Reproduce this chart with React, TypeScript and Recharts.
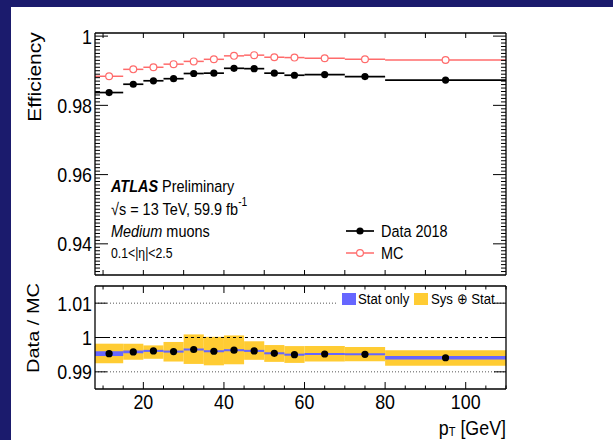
import React from 'react';
import {
    ComposedChart,
    Scatter,
    ErrorBar,
    XAxis,
    YAxis,
    ReferenceArea,
    ReferenceLine,
} from 'recharts';

// pT bins [GeV]
const binLo = [8, 15, 20, 25, 30, 35, 40, 45, 50, 55, 60, 70, 80];
const binHi = [15, 20, 25, 30, 35, 40, 45, 50, 55, 60, 70, 80, 110];

// efficiencies
const effData = [0.9837, 0.9861, 0.9871, 0.9877, 0.9892, 0.9893, 0.9907, 0.9906, 0.9893, 0.9887, 0.9889, 0.9883, 0.9873];
const effMC = [0.9884, 0.9904, 0.991, 0.9919, 0.9927, 0.9933, 0.9943, 0.9945, 0.9939, 0.9938, 0.9936, 0.9933, 0.9931];

// data / MC
const ratio = [0.9953, 0.9958, 0.9961, 0.9959, 0.9965, 0.996, 0.9963, 0.9961, 0.9954, 0.995, 0.9952, 0.9951, 0.9941];
const statErr = [0.0007, 0.0004, 0.0003, 0.0003, 0.0003, 0.0003, 0.0003, 0.0003, 0.0003, 0.0003, 0.0003, 0.0003, 0.0005];
const totLo = [0.9925, 0.9935, 0.9938, 0.993, 0.9923, 0.9919, 0.9922, 0.9935, 0.9929, 0.9926, 0.993, 0.9931, 0.9918];
const totHi = [0.9982, 0.9982, 0.9977, 0.9987, 1.0009, 1.0002, 1.0006, 0.9989, 0.9978, 0.9975, 0.9975, 0.9972, 0.9963];

// axis ticks
const effMajor = [0.94, 0.96, 0.98, 1];
const effMinor = Array.from({ length: 69 }, (_, i) => Number((0.932 + i * 0.001).toFixed(3)));
const ratioMajor = [0.99, 1, 1.01];
const ptTopTicks = [10, 20, 30, 40, 50, 60, 70, 80, 90, 100];
const ptMajor = [20, 40, 60, 80, 100];
const ptMinor = Array.from({ length: 21 }, (_, i) => 10 + i * 5);

const FONT = "'Liberation Sans', Arial, sans-serif";
const SQ = 0.85; // the original plot is squeezed sideways
const RED = '#ff6b6b';
const BLUE = '#6666ff';
const YELLOW = '#ffcc33';

const effRows = binLo.map((lo, i) => ({
    x: (lo + binHi[i]) / 2,
    xerr: (binHi[i] - lo) / 2,
    data: effData[i],
    mc: effMC[i],
}));
const ratioRows = binLo.map((lo, i) => ({ x: (lo + binHi[i]) / 2, r: ratio[i] }));

const isIn = (list: number[], v: number) => list.some(m => Math.abs(m - v) < 1e-7);

// text squeezed horizontally around its anchor point
function SText({ x, y, size, anchor = 'start', children }: any) {
    return (
        <g transform={`translate(${x},${y}) scale(${SQ},1)`}>
            <text x={0} y={0} textAnchor={anchor} dominantBaseline="central" fontFamily={FONT} fontSize={size} fill="#000">
                {children}
            </text>
        </g>
    );
}

function makeTick(side: string, majors: number[], majorLen: number, minorLen: number, label: boolean) {
    return (props: any) => {
        const { x, y, payload } = props;
        const v = payload.value;
        const major = isIn(majors, v);
        const len = major ? majorLen : minorLen;
        let line;
        if (side === 'left') line = <line x1={x} x2={x + len} y1={y} y2={y} stroke="#000" />;
        else if (side === 'right') line = <line x1={x} x2={x - len} y1={y} y2={y} stroke="#000" />;
        else if (side === 'top') line = <line x1={x} x2={x} y1={y} y2={y + len} stroke="#000" />;
        else line = <line x1={x} x2={x} y1={y} y2={y - len} stroke="#000" />;
        let text = null;
        if (label && major) {
            const t = String(Number(v.toFixed(3)));
            text =
                side === 'left' ? (
                    <SText x={x - 3} y={y} size={21} anchor="end">{t}</SText>
                ) : (
                    <SText x={x} y={y + 12} size={21} anchor="middle">{t}</SText>
                );
        }
        return (
            <g>
                {line}
                {text}
            </g>
        );
    };
}

const axisCommon = {
    type: 'number' as const,
    tickSize: 0,
    tickMargin: 0,
    tickLine: false,
    interval: 0 as const,
    allowDataOverflow: true,
    axisLine: { stroke: '#000', strokeWidth: 1.3 },
};

const DataDot = (p: any) => <circle cx={p.cx} cy={p.cy} r={3.6} fill="#000" />;
const MCDot = (p: any) => <circle cx={p.cx} cy={p.cy} r={3.4} fill="#fff" stroke={RED} strokeWidth={1.2} />;
const NoDot = () => <g />;

function EffPanel() {
    return (
        <ComposedChart width={508} height={290} data={effRows} margin={{ top: 32, right: 1, bottom: 14, left: 94 }}>
            <XAxis {...axisCommon} xAxisId="b" dataKey="x" orientation="bottom" height={1} domain={[8, 110]} ticks={ptTopTicks} tick={makeTick('bottom', ptTopTicks, 5, 5, false)} />
            <XAxis {...axisCommon} xAxisId="t" dataKey="x" orientation="top" height={1} domain={[8, 110]} ticks={ptTopTicks} tick={makeTick('top', ptTopTicks, 5, 5, false)} />
            <YAxis {...axisCommon} yAxisId="l" orientation="left" width={1} domain={[0.931, 1.0009]} ticks={effMinor} tick={makeTick('left', effMajor, 13, 5, true)} />
            <YAxis {...axisCommon} yAxisId="r" orientation="right" width={1} domain={[0.931, 1.0009]} ticks={effMinor} tick={makeTick('right', effMajor, 13, 5, false)} />
            {/* invisible series so the top and right frame axes get their ticks */}
            <Scatter xAxisId="t" yAxisId="r" dataKey="mc" shape={NoDot} isAnimationActive={false} />
            <Scatter xAxisId="b" yAxisId="l" dataKey="data" fill="#000" shape={DataDot} isAnimationActive={false}>
                <ErrorBar dataKey="xerr" direction="x" width={0} stroke="#000" strokeWidth={1.7} isAnimationActive={false} />
            </Scatter>
            <Scatter xAxisId="b" yAxisId="l" dataKey="mc" fill={RED} shape={MCDot} isAnimationActive={false}>
                <ErrorBar dataKey="xerr" direction="x" width={0} stroke={RED} strokeWidth={1.5} isAnimationActive={false} />
            </Scatter>
        </ComposedChart>
    );
}

function RatioPanel() {
    return (
        <ComposedChart width={508} height={170} data={ratioRows} margin={{ top: 15, right: 1, bottom: 50, left: 94 }}>
            <XAxis {...axisCommon} xAxisId="b" dataKey="x" orientation="bottom" height={1} domain={[8, 110]} ticks={ptMinor} tick={makeTick('bottom', ptMajor, 7, 3.5, true)} />
            <XAxis {...axisCommon} xAxisId="t" dataKey="x" orientation="top" height={1} domain={[8, 110]} ticks={ptMinor} tick={makeTick('top', ptMajor, 7, 3.5, false)} />
            <YAxis {...axisCommon} yAxisId="l" orientation="left" width={1} domain={[0.985, 1.015]} ticks={ratioMajor} tick={makeTick('left', ratioMajor, 12, 12, true)} />
            <YAxis {...axisCommon} yAxisId="r" orientation="right" width={1} domain={[0.985, 1.015]} ticks={ratioMajor} tick={makeTick('right', ratioMajor, 12, 12, false)} />
            {binLo.map((lo, i) => (
                <ReferenceArea key={'t' + i} xAxisId="b" yAxisId="l" x1={lo} x2={binHi[i]} y1={totLo[i]} y2={totHi[i]} fill={YELLOW} fillOpacity={1} stroke="none" />
            ))}
            {binLo.map((lo, i) => (
                <ReferenceArea key={'s' + i} xAxisId="b" yAxisId="l" x1={lo} x2={binHi[i]} y1={ratio[i] - statErr[i]} y2={ratio[i] + statErr[i]} fill={BLUE} fillOpacity={1} stroke="none" />
            ))}
            <ReferenceLine xAxisId="b" yAxisId="l" y={1.01} stroke="#555" strokeDasharray="1 2" />
            <ReferenceLine xAxisId="b" yAxisId="l" y={0.99} stroke="#555" strokeDasharray="1 2" />
            <ReferenceLine xAxisId="b" yAxisId="l" y={1} stroke="#000" strokeDasharray="3 3" />
            <Scatter xAxisId="t" yAxisId="r" dataKey="r" shape={NoDot} isAnimationActive={false} />
            <Scatter xAxisId="b" yAxisId="l" dataKey="r" fill="#000" shape={DataDot} isAnimationActive={false} />
        </ComposedChart>
    );
}

function Overlay() {
    return (
        <svg width={613} height={440} style={{ position: 'absolute', left: 0, top: 0, pointerEvents: 'none' }}>
            <text transform={`translate(35,77) scale(${SQ},1) rotate(-90)`} textAnchor="middle" dominantBaseline="central" fontFamily={FONT} fontSize={21}>
                Efficiency
            </text>
            <text transform={`translate(33,328) scale(${SQ},1) rotate(-90)`} textAnchor="middle" dominantBaseline="central" fontFamily={FONT} fontSize={20}>
                Data / MC
            </text>

            <SText x={111} y={186} size={17}>
                <tspan fontWeight="bold" fontStyle="italic">ATLAS</tspan> Preliminary
            </SText>
            <SText x={111} y={209} size={17}>
                √s = 13 TeV, 59.9 fb<tspan dy={-7} fontSize={12}>-1</tspan>
            </SText>
            <SText x={111} y={231} size={17}>
                <tspan fontStyle="italic">Medium</tspan> muons
            </SText>
            <SText x={111} y={253} size={14.4}>
                0.1&lt;|η|&lt;2.5
            </SText>

            <line x1={346} x2={374} y1={231} y2={231} stroke="#000" strokeWidth={1.7} />
            <circle cx={360} cy={231} r={3.6} fill="#000" />
            <SText x={381} y={231} size={17}>Data 2018</SText>
            <line x1={346} x2={374} y1={253} y2={253} stroke={RED} strokeWidth={1.5} />
            <circle cx={360} cy={253} r={3.4} fill="#fff" stroke={RED} strokeWidth={1.2} />
            <SText x={381} y={253} size={17}>MC</SText>

            <rect x={338} y={290} width={155} height={18} fill="#fff" />
            <rect x={342} y={293} width={14} height={12} fill={BLUE} />
            <SText x={358} y={299} size={15.5}>Stat only</SText>
            <rect x={414} y={293} width={14} height={12} fill={YELLOW} />
            <SText x={431} y={299} size={15.5}>Sys ⊕ Stat</SText>

            <SText x={506} y={427} size={21} anchor="end">
                p<tspan dy={5} fontSize={13}>T</tspan><tspan dy={-5}> [GeV]</tspan>
            </SText>
        </svg>
    );
}

export default function App() {
    return (
        <div style={{ position: 'fixed', left: 0, top: 0, width: 613, height: 440, background: '#1b1b6d', overflow: 'hidden' }}>
            <style>{'html, body { margin: 0; overflow: hidden; }'}</style>
            <div style={{ position: 'absolute', left: 11, top: 7, width: 602, height: 433, background: '#fff' }} />
            <div style={{ position: 'absolute', left: 0, top: 0 }}>
                <EffPanel />
            </div>
            <div style={{ position: 'absolute', left: 0, top: 270 }}>
                <RatioPanel />
            </div>
            <Overlay />
        </div>
    );
}
